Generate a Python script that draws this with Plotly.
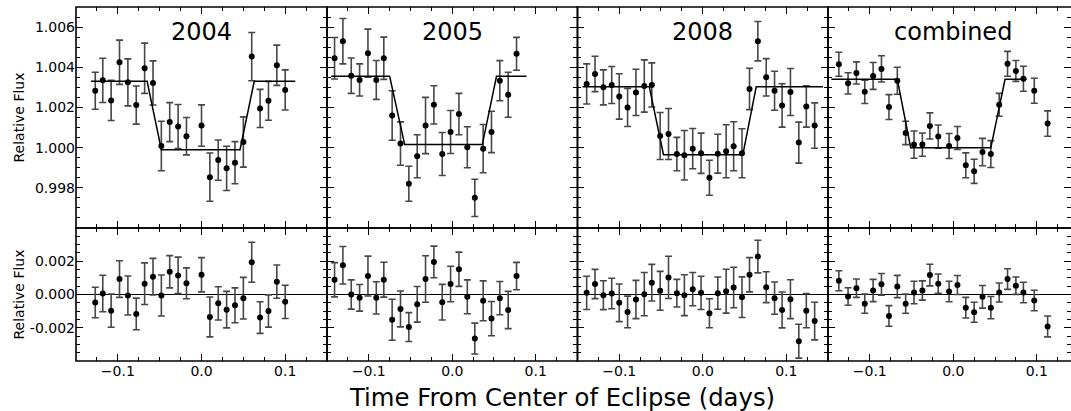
import plotly.graph_objects as go

# ---------------- data ----------------
years = ["2004", "2005", "2008", "combined"]

t2004 = [-0.127,-0.118,-0.108,-0.098,-0.088,-0.078,-0.068,-0.058,-0.048,-0.038,-0.028,-0.018,0.000,0.010,0.020,0.030,0.040,0.050,0.060,0.070,0.080,0.090,0.100]
f2004 = [1.00283,1.00335,1.00235,1.00425,1.00325,1.00212,1.00395,1.00322,1.00008,1.00127,1.00105,1.00057,1.00110,0.99853,0.99938,0.99897,0.99925,1.00028,1.00453,1.00195,1.00233,1.00410,1.00287]
e2004 = [0.00092,0.0011,0.001,0.0011,0.00117,0.00095,0.00125,0.0011,0.00123,0.00097,0.0011,0.00093,0.00103,0.0012,0.001,0.0011,0.00105,0.00125,0.0012,0.00095,0.00097,0.001,0.001]
r2004 = [-0.00048,0.00006,-0.00097,0.00093,-0.00006,-0.00117,0.00065,0.00107,-0.00006,0.00137,0.00115,0.00067,0.00119,-0.00135,-0.00053,-0.00091,-0.00065,-0.00022,0.00194,-0.00139,-0.00099,0.00077,-0.00044]
m2004_t = [-0.132,-0.065,-0.048,0.046,0.063,0.112]
m2004_f = [1.0033,1.0033,0.9999,0.9999,1.0033,1.0033]

t2005 = [-0.141,-0.131,-0.121,-0.111,-0.101,-0.091,-0.082,-0.072,-0.062,-0.052,-0.042,-0.032,-0.022,-0.012,-0.002,0.008,0.018,0.027,0.037,0.047,0.057,0.067,0.077]
f2005 = [1.00445,1.0053,1.00358,1.00337,1.0047,1.00337,1.00445,1.0016,1.0002,0.9982,0.99957,1.0011,1.00213,0.99968,1.00078,1.00167,1.00002,0.9975,0.99995,1.00078,1.00333,1.00263,1.00467]
e2005 = [0.00103,0.00113,0.00088,0.0008,0.0012,0.00097,0.00105,0.00123,0.00108,0.00087,0.00107,0.0014,0.00095,0.00107,0.00107,0.00103,0.00102,0.00093,0.0012,0.00103,0.001,0.00112,0.00082]
r2005 = [0.00089,0.00176,0.0,-0.0002,0.00111,-0.0002,0.00089,-0.00152,-0.00087,-0.00196,-0.00059,0.00093,0.00196,-0.00046,0.00063,0.00152,-0.00014,-0.00265,-0.00038,-0.00145,-0.00022,-0.00093,0.00111]
m2005_t = [-0.145,-0.075,-0.057,0.036,0.053,0.089]
m2005_f = [1.00355,1.00355,1.00015,1.00015,1.00355,1.00355]

t2008 = [-0.139,-0.129,-0.119,-0.109,-0.100,-0.090,-0.080,-0.070,-0.061,-0.051,-0.041,-0.031,-0.022,-0.012,-0.002,0.008,0.018,0.028,0.037,0.047,0.056,0.066,0.076,0.086,0.095,0.105,0.115,0.124,0.134]
f2008 = [1.00317,1.00367,1.003,1.00312,1.00255,1.002,1.00275,1.00307,1.00312,1.00058,1.00068,0.99968,0.99962,0.99995,0.99972,0.9985,0.9997,0.99982,1.00007,0.99972,1.00292,1.0053,1.0035,1.00283,1.0021,1.00277,1.00025,1.00205,1.0011]
e2008 = [0.001,0.00088,0.00087,0.00092,0.00113,0.00095,0.00115,0.0013,0.0011,0.00117,0.00127,0.00083,0.00123,0.001,0.001,0.00087,0.00097,0.00132,0.00122,0.00122,0.00103,0.00098,0.00093,0.00097,0.00108,0.00117,0.00102,0.00103,0.00113]
r2008 = [0.0001,0.00063,-0.00004,0.00006,-0.0005,-0.00105,-0.0003,0.00002,0.00071,0.00022,0.00103,0.00008,-0.00004,0.00032,0.0001,-0.00113,0.00008,0.0002,0.00042,-0.00016,0.00119,0.00228,0.00044,-0.00022,-0.00093,-0.00028,-0.00281,-0.00097,-0.0016]
m2008_t = [-0.144,-0.064,-0.047,0.048,0.064,0.144]
m2008_f = [1.00303,1.00303,0.99965,0.99965,1.00303,1.00303]

tcomb = [-0.137,-0.126,-0.116,-0.106,-0.096,-0.086,-0.077,-0.067,-0.057,-0.047,-0.037,-0.028,-0.018,-0.005,0.005,0.015,0.025,0.035,0.045,0.055,0.065,0.075,0.084,0.097,0.113]
fcomb = [1.00415,1.0032,1.00372,1.00278,1.00357,1.00392,1.00202,1.00333,1.00073,1.00015,1.00015,1.00108,1.00055,1.00008,1.00048,0.99912,0.99882,0.99978,0.99968,1.00213,1.00417,1.00382,1.00343,1.00283,1.0012]
ecomb = [0.0006,0.00053,0.00055,0.00058,0.00067,0.00065,0.00062,0.00067,0.00058,0.00068,0.00058,0.00065,0.00058,0.00062,0.00057,0.00062,0.0006,0.00068,0.00067,0.00057,0.00062,0.00052,0.00062,0.00062,0.00063]
rcomb = [0.00083,-0.00012,0.00038,-0.00055,0.00024,0.00061,-0.00129,0.00048,-0.00055,0.00012,0.00024,0.00117,0.00065,0.00018,0.00057,-0.00079,-0.00107,-0.00014,-0.00079,0.00012,0.00093,0.00053,0.00012,-0.00036,-0.00192]
mcomb_t = [-0.146,-0.067,-0.051,0.045,0.062,0.088]
mcomb_f = [1.0034,1.0034,1.0000,1.0000,1.0034,1.0034]

x_tickvals = [-0.1, 0.0, 0.1]
x_ticktext = ["\u22120.1", "0.0", "0.1"]
top_tickvals = [0.998, 1.000, 1.002, 1.004, 1.006]
top_ticktext = ["0.998", "1.000", "1.002", "1.004", "1.006"]
bot_tickvals = [-0.002, 0.0, 0.002]
bot_ticktext = ["-0.002", "0.000", "0.002"]

panels = [
    (t2004, f2004, e2004, r2004, m2004_t, m2004_f),
    (t2005, f2005, e2005, r2005, m2005_t, m2005_f),
    (t2008, f2008, e2008, r2008, m2008_t, m2008_f),
    (tcomb, fcomb, ecomb, rcomb, mcomb_t, mcomb_f),
]

# ---------------- figure ----------------
FONT = "DejaVu Sans"
W, H = 1071, 411
ML, MR, MT, MB = 76, 0, 7, 50
xdom = [[0.0, 0.2523], [0.2523, 0.5040], [0.5040, 0.7558], [0.7558, 1.0]]
ysplit = 133 / 354
xranges = [[-0.15, 0.15]] * 3 + [[-0.15, 0.141]]

fig = go.Figure()
ebar_col = "#474747"

for i, (t, f, e, r, mt, mf) in enumerate(panels):
    xt = "x" if i == 0 else f"x{i+1}"
    yt = "y" if i == 0 else f"y{i+1}"
    xb = f"x{i+5}"
    yb = f"y{i+5}"
    fig.add_trace(go.Scatter(x=t, y=f, mode="markers", xaxis=xt, yaxis=yt,
                             marker=dict(color="black", size=6),
                             error_y=dict(type="data", array=e, color=ebar_col, thickness=1.6, width=3.5),
                             showlegend=False))
    fig.add_trace(go.Scatter(x=mt, y=mf, mode="lines", xaxis=xt, yaxis=yt,
                             line=dict(color="black", width=1.5), showlegend=False))
    fig.add_trace(go.Scatter(x=t, y=r, mode="markers", xaxis=xb, yaxis=yb,
                             marker=dict(color="black", size=6),
                             error_y=dict(type="data", array=e, color=ebar_col, thickness=1.6, width=3.5),
                             showlegend=False))

axis_common = dict(showline=False, ticks="inside", mirror="ticks",
                   tickcolor="black", tickwidth=1.3, ticklen=7, showgrid=False,
                   zeroline=False, tickfont=dict(family=FONT, size=14, color="black"))
minor_common = dict(ticks="inside", ticklen=4, tickcolor="black", tickwidth=1.1)

layout = dict(width=W, height=H, margin=dict(l=ML, r=MR, t=MT, b=MB),
              plot_bgcolor="white", paper_bgcolor="white",
              font=dict(family=FONT, color="black"), showlegend=False)

for i in range(4):
    xn_t = "xaxis" if i == 0 else f"xaxis{i+1}"
    yn_t = "yaxis" if i == 0 else f"yaxis{i+1}"
    xn_b = f"xaxis{i+5}"
    yn_b = f"yaxis{i+5}"
    xa_t = "x" if i == 0 else f"x{i+1}"
    ya_t = "y" if i == 0 else f"y{i+1}"
    layout[xn_t] = dict(axis_common, domain=xdom[i], range=xranges[i], anchor=ya_t,
                        tickvals=x_tickvals, showticklabels=False,
                        minor=dict(minor_common, dtick=0.025, tick0=0))
    layout[xn_b] = dict(axis_common, domain=xdom[i], range=xranges[i], anchor=f"y{i+5}",
                        tickvals=x_tickvals, ticktext=x_ticktext, showticklabels=True,
                        minor=dict(minor_common, dtick=0.025, tick0=0))
    layout[yn_t] = dict(axis_common, domain=[ysplit, 1.0], range=[0.996, 1.007], anchor=xa_t,
                        tickvals=top_tickvals, ticktext=top_ticktext, showticklabels=(i == 0),
                        minor=dict(minor_common, dtick=0.0005, tick0=0.996))
    layout[yn_b] = dict(axis_common, domain=[0.0, ysplit], range=[-0.004, 0.004], anchor=f"x{i+5}",
                        tickvals=bot_tickvals, ticktext=bot_ticktext, showticklabels=(i == 0),
                        zeroline=True, zerolinecolor="black", zerolinewidth=1.4,
                        minor=dict(minor_common, dtick=0.0005, tick0=-0.004))

fig.update_layout(**layout)

# panel frames
for i in range(4):
    for (xa, ya) in [("x" if i == 0 else f"x{i+1}", "y" if i == 0 else f"y{i+1}"),
                     (f"x{i+5}", f"y{i+5}")]:
        fig.add_shape(type="rect", xref=f"{xa} domain", yref=f"{ya} domain",
                      x0=0, x1=1 if i < 3 else 1.05, y0=0, y1=1,
                      line=dict(color="black", width=1.6), fillcolor="rgba(0,0,0,0)",
                      layer="above")

# panel titles
for i, name in enumerate(years):
    xa = "x" if i == 0 else f"x{i+1}"
    ya = "y" if i == 0 else f"y{i+1}"
    fig.add_annotation(x=0.0, y=1.00575, xref=xa, yref=ya, text=name, showarrow=False,
                       font=dict(family=FONT, size=24, color="black"),
                       xanchor="center", yanchor="middle")

# y axis titles
plot_w = W - ML - MR
plot_h = H - MT - MB
ylab_x = (18 - ML) / plot_w
for yc in [(228 + 7) / 2, (228 + 361) / 2]:
    fig.add_annotation(x=ylab_x, y=(H - MB - yc) / plot_h, xref="paper", yref="paper",
                       text="Relative Flux", textangle=-90, showarrow=False,
                       font=dict(family=FONT, size=14, color="black"),
                       xanchor="center", yanchor="middle")

# x axis title
fig.add_annotation(x=(562 - ML) / plot_w, y=(H - MB - 397) / plot_h, xref="paper", yref="paper",
                   text="Time From Center of Eclipse (days)", showarrow=False,
                   font=dict(family=FONT, size=24.3, color="black"),
                   xanchor="center", yanchor="middle")

fig.write_html("out.html", config={"displayModeBar": False},
               post_script="document.body.style.margin='0';document.body.style.overflow='hidden';")
